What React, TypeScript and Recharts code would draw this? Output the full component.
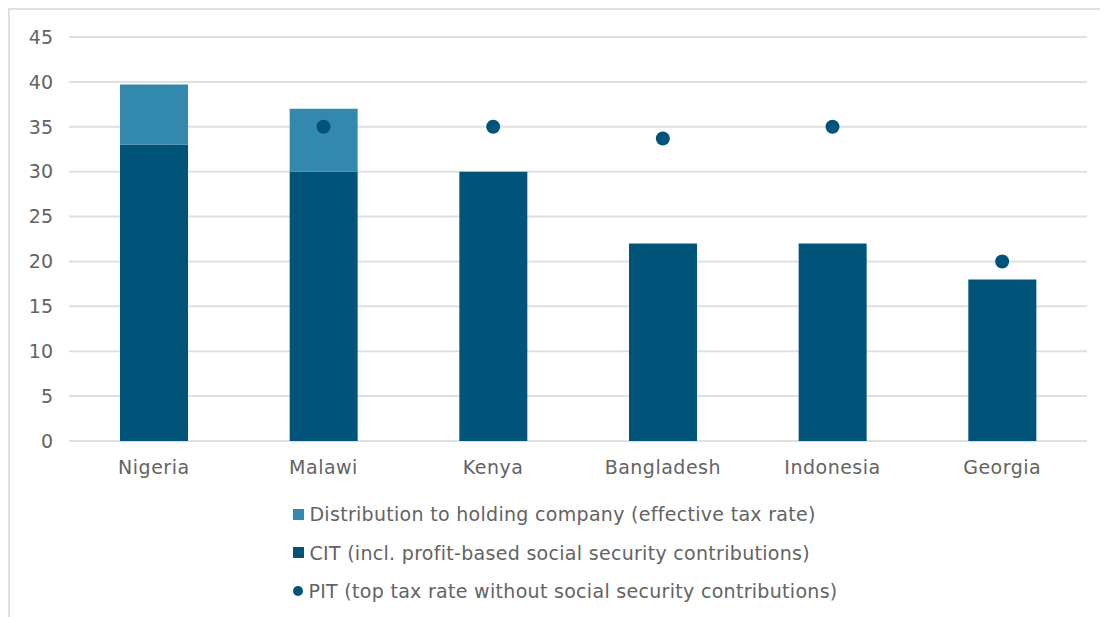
import React from "react";
import { ComposedChart, Bar, Scatter, XAxis, YAxis, CartesianGrid, Legend } from "recharts";

const countries = ["Nigeria", "Malawi", "Kenya", "Bangladesh", "Indonesia", "Georgia"];
const citValues = [33, 30, 30, 22, 22, 18];
const distributionValues = [6.7, 7, 0, 0, 0, 0];
const pitValues: (number | null)[] = [null, 35, 35, 33.7, 35, 20];
const yTicks = [0, 5, 10, 15, 20, 25, 30, 35, 40, 45];

const legendLabels = {
  distribution: "Distribution to holding company (effective tax rate)",
  cit: "CIT (incl. profit-based social security contributions)",
  pit: "PIT (top tax rate without social security contributions)",
};

const DARK = "#00547a";
const LIGHT = "#3388ad";
const TEXT = "#636363";
const GRID = "#e0e0e0";
const FONT = "'DejaVu Sans', 'Open Sans', sans-serif";

const data = countries.map((c, i) => ({
  country: c,
  cit: citValues[i],
  distribution: distributionValues[i],
  pit: pitValues[i],
}));

const Dot = (props: any) => {
  const { cx, cy, payload } = props;
  if (payload == null || payload.pit == null || cx == null || cy == null) return <g />;
  return <circle cx={cx} cy={cy} r={7} fill={DARK} />;
};

const LegendContent = () => {
  const items = [
    { label: legendLabels.distribution, color: LIGHT, type: "square" },
    { label: legendLabels.cit, color: DARK, type: "square" },
    { label: legendLabels.pit, color: DARK, type: "circle" },
  ];
  return (
    <div style={{ display: "flex", justifyContent: "center" }}>
      <div style={{ display: "flex", flexDirection: "column", alignItems: "flex-start", marginLeft: 34 }}>
        {items.map((it) => (
          <div
            key={it.label}
            style={{
              display: "flex",
              alignItems: "center",
              height: 38.5,
              fontFamily: FONT,
              fontSize: 19,
              letterSpacing: 0.3,
              color: TEXT,
            }}
          >
            <span
              style={{
                display: "inline-block",
                width: it.type === "square" ? 11 : 10,
                height: it.type === "square" ? 11 : 10,
                borderRadius: it.type === "circle" ? "50%" : 0,
                background: it.color,
                marginRight: 5,
              }}
            />
            <span>{it.label}</span>
          </div>
        ))}
      </div>
    </div>
  );
};

export default function App() {
  return (
    <div
      style={{
        width: 1100,
        height: 609,
        borderTop: `2px solid ${GRID}`,
        borderLeft: `2px solid ${GRID}`,
        boxSizing: "border-box",
      }}
    >
      <ComposedChart
        width={1098}
        height={607}
        data={data}
        margin={{ top: 27, right: 21, bottom: 6, left: 0 }}
        barCategoryGap="30%"
      >
        <CartesianGrid vertical={false} stroke={GRID} strokeWidth={2} />
        <XAxis
          dataKey="country"
          axisLine={false}
          tickLine={false}
          tickSize={0}
          tickMargin={20}
          height={54}
          tick={{ fill: TEXT, fontSize: 19, fontFamily: FONT, letterSpacing: 0.5 }}
        />
        <YAxis
          domain={[0, 45]}
          ticks={yTicks}
          axisLine={false}
          tickLine={false}
          tickSize={0}
          tickMargin={16}
          width={59}
          tick={{ fill: TEXT, fontSize: 19, fontFamily: FONT }}
        />
        <Legend verticalAlign="bottom" height={116} content={<LegendContent />} />
        <Bar dataKey="cit" stackId="a" fill={DARK} barSize={68} isAnimationActive={false} />
        <Bar dataKey="distribution" stackId="a" fill={LIGHT} barSize={68} isAnimationActive={false} />
        <Scatter dataKey="pit" shape={<Dot />} isAnimationActive={false} />
      </ComposedChart>
    </div>
  );
}
